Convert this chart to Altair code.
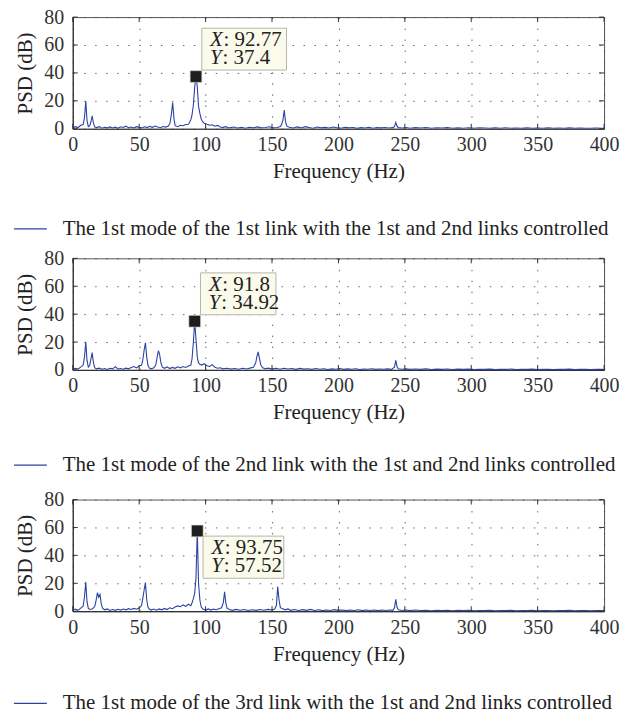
import altair as alt
import pandas as pd

FONT = "Liberation Serif"
LINE_COLOR = "#2c43a3"

X_TICKS = [0, 50, 100, 150, 200, 250, 300, 350, 400]
Y_TICKS = [0, 20, 40, 60, 80]

LABEL_1 = "The 1st mode of the 1st link with the 1st and 2nd links controlled"
LABEL_2 = "The 1st mode of the 2nd link with the 1st and 2nd links controlled"
LABEL_3 = "The 1st mode of the 3rd link with the 1st and 2nd links controlled"

# (frequency Hz, PSD dB)
PSD_1 = [
    (0, 0.5), (2, 1.5), (4, 0.8), (6, 2.5), (7.8, 3.0), (8.8, 8.0), (9.8, 19.8), (10.7, 6.0),
    (11.7, 1.5), (12.7, 2.0), (13.7, 5.0), (14.6, 9.3), (15.6, 4.0), (16.6, 1.2), (18, 0.8),
    (20, 1.5), (22, 0.4), (24, 1.0), (26, 0.6), (28, 1.3), (30, 0.5), (32, 1.1), (34, 0.3),
    (36, 1.4), (38, 0.9), (40, 1.8), (42, 0.7), (44, 1.2), (46, 0.5), (48, 1.5), (50, 1.0),
    (52, 0.6), (54, 1.4), (56, 0.8), (58, 1.7), (60, 1.0), (62, 1.9), (64, 1.2), (66, 0.7),
    (68, 1.6), (70, 1.2), (72, 2.0), (73.2, 4.0), (74.2, 10.0), (75.2, 18.8), (76.2, 7.0),
    (77.1, 2.2), (79, 1.5), (81, 2.5), (83, 2.2), (85, 3.0), (87, 3.2), (87.9, 4.5), (88.9, 6.5),
    (89.8, 10.0), (90.8, 17.0), (91.8, 30.0), (92.77, 37.4), (93.75, 30.0), (94.7, 16.0),
    (95.7, 11.0), (96.7, 7.0), (97.7, 5.0), (99, 4.0), (101, 3.2), (103, 2.5), (105, 2.8),
    (107, 1.8), (109, 2.4), (111, 1.2), (113, 0.8), (115, 1.5), (118, 0.6), (121, 1.2),
    (124, 0.5), (127, 1.0), (130, 0.4), (133, 1.1), (136, 0.6), (139, 1.3), (142, 0.7),
    (145, 0.9), (148, 1.4), (151, 0.6), (154, 0.9), (156.3, 1.5), (157.2, 3.0), (158.2, 6.0),
    (159.2, 13.3), (160.2, 5.0), (161.1, 1.8), (163, 1.0), (166, 0.5), (169, 1.3), (172, 0.6),
    (175, 1.5), (178, 0.8), (181, 0.4), (184, 1.2), (187, 0.6), (190, 1.0), (193, 0.5),
    (196, 1.2), (199, 0.7), (202, 0.4), (205, 1.0), (208, 0.6), (211, 0.9), (214, 0.3),
    (217, 0.8), (220, 0.5), (223, 1.0), (226, 0.4), (229, 0.8), (232, 0.6), (235, 0.9),
    (238, 0.5), (241, 0.8), (242.2, 1.5), (243.2, 4.5), (244.1, 2.0), (245.1, 0.8), (248, 0.5),
    (251, 0.9), (254, 0.4), (258, 0.8), (262, 0.5), (266, 0.9), (270, 0.4), (274, 0.7),
    (278, 0.5), (282, 0.8), (286, 0.4), (290, 0.6), (294, 0.3), (298, 0.7), (302, 0.4),
    (306, 0.6), (310, 0.5), (314, 0.3), (318, 0.6), (322, 0.4), (326, 0.7), (330, 0.3),
    (334, 0.5), (338, 0.4), (342, 0.6), (346, 0.3), (350, 0.5), (354, 0.4), (358, 0.6),
    (362, 0.3), (366, 0.5), (370, 0.4), (374, 0.6), (378, 0.3), (382, 0.5), (386, 0.4),
    (390, 0.3), (394, 0.5), (398, 0.4), (400, 0.3),
]

PSD_2 = [
    (0, 0.6), (2, 1.2), (4, 0.7), (6, 2.0), (7.8, 3.5), (8.8, 9.0), (9.8, 20.2), (10.7, 7.0),
    (11.7, 2.0), (12.7, 3.0), (13.7, 8.0), (14.6, 12.4), (15.6, 5.0), (16.6, 1.5), (18, 0.8),
    (20, 1.3), (22, 0.5), (24, 1.0), (26, 0.4), (28, 1.2), (30, 0.8), (32, 2.4), (34, 0.7),
    (36, 1.0), (38, 0.5), (40, 1.3), (42, 0.8), (44, 1.8), (46, 2.5), (48, 1.5), (50, 2.8),
    (51.8, 3.5), (52.7, 7.0), (53.7, 14.0), (54.7, 19.5), (55.7, 9.0), (56.6, 3.5), (57.6, 1.5),
    (59, 0.8), (61, 1.5), (62.5, 3.5), (63.5, 9.0), (64.5, 13.8), (65.4, 11.0), (66.4, 5.0),
    (67.4, 2.0), (69, 1.2), (71, 2.2), (73, 1.0), (75, 1.8), (77, 1.2), (79, 2.3), (81, 1.5),
    (83, 2.5), (85, 1.8), (87, 2.8), (88.9, 3.5), (89.8, 8.0), (90.8, 20.0), (91.8, 34.92),
    (92.77, 22.0), (93.75, 9.0), (94.7, 5.0), (95.7, 4.0), (97, 3.5), (99, 4.5), (101, 3.0),
    (103, 2.5), (105, 3.8), (107, 2.0), (109, 1.2), (111, 1.6), (113, 0.8), (116, 1.2),
    (119, 0.6), (122, 1.0), (125, 0.5), (128, 1.2), (131, 0.7), (134, 1.5), (136, 2.0),
    (137.7, 5.0), (138.7, 10.0), (139.6, 13.0), (140.6, 8.0), (141.6, 3.5), (143, 1.5),
    (145, 0.8), (147, 1.3), (150, 0.6), (153, 1.1), (156, 0.5), (159, 1.2), (162, 0.7),
    (165, 1.0), (168, 0.4), (171, 1.1), (174, 0.6), (177, 0.9), (180, 0.4), (183, 1.0),
    (186, 0.5), (189, 0.9), (192, 0.3), (195, 0.8), (198, 0.5), (201, 1.0), (204, 0.4),
    (207, 0.8), (210, 0.5), (213, 0.9), (216, 0.3), (219, 0.7), (222, 0.5), (225, 0.9),
    (228, 0.4), (231, 0.7), (234, 0.5), (237, 0.8), (240, 0.4), (242.2, 2.0), (243.2, 6.9),
    (244.1, 2.5), (245.1, 0.8), (248, 0.5), (251, 0.8), (254, 0.4), (258, 0.7), (262, 0.4),
    (266, 0.8), (270, 0.3), (274, 0.6), (278, 0.4), (282, 0.7), (286, 0.3), (290, 0.6),
    (294, 0.4), (298, 0.6), (302, 0.3), (306, 0.5), (310, 0.4), (314, 0.6), (318, 0.3),
    (322, 0.5), (326, 0.4), (330, 0.6), (334, 0.3), (338, 0.5), (342, 0.4), (346, 0.6),
    (350, 0.3), (354, 0.5), (358, 0.4), (362, 0.3), (366, 0.5), (370, 0.4), (374, 0.6),
    (378, 0.3), (382, 0.5), (386, 0.4), (390, 0.3), (394, 0.5), (398, 0.4), (400, 0.3),
]

PSD_3 = [
    (0, 0.8), (2, 1.5), (4, 0.6), (6, 2.2), (7.8, 3.5), (8.8, 10.0), (9.8, 20.9), (10.7, 7.0),
    (11.7, 2.0), (13, 1.2), (15, 1.8), (16.6, 3.5), (17.6, 8.0), (18.6, 13.3), (19.5, 10.0),
    (20.5, 12.0), (21.5, 5.0), (22.5, 2.0), (24, 1.0), (26, 1.6), (28, 0.5), (30, 1.2),
    (32, 0.6), (34, 1.4), (36, 0.8), (38, 1.6), (40, 1.0), (42, 1.8), (44, 1.2), (46, 2.0),
    (48, 1.4), (50, 2.2), (51.8, 4.0), (52.7, 9.0), (53.7, 15.0), (54.7, 20.5), (55.7, 8.0),
    (56.6, 3.0), (57.6, 1.5), (59, 0.8), (61, 1.5), (63, 0.7), (65, 1.6), (67, 1.0), (69, 2.0),
    (71, 1.2), (73, 2.4), (75, 1.8), (77, 3.0), (79, 3.8), (81, 3.2), (83, 4.5), (85, 3.5),
    (87, 5.0), (88.9, 4.0), (89.8, 6.0), (90.8, 9.0), (91.8, 13.0), (92.77, 24.0),
    (93.75, 57.52), (94.7, 20.0), (95.7, 8.0), (96.7, 3.0), (98, 1.5), (100, 0.8), (102, 1.6),
    (104, 0.8), (106, 1.5), (108, 1.0), (110, 1.8), (112, 2.5), (113.3, 6.0), (114.3, 13.8),
    (115.2, 6.0), (116.2, 2.0), (118, 1.2), (120, 0.6), (123, 1.3), (126, 0.7), (129, 1.2),
    (132, 0.5), (135, 1.0), (138, 0.6), (141, 1.2), (144, 0.7), (147, 1.3), (150, 0.9),
    (152, 1.5), (153.3, 4.0), (154.3, 17.6), (155.3, 8.0), (156.3, 2.5), (158, 1.8), (160, 1.0),
    (162, 1.6), (164, 0.6), (167, 1.2), (170, 0.5), (173, 1.1), (176, 0.6), (179, 1.3),
    (182, 0.5), (185, 1.0), (188, 0.4), (191, 0.9), (194, 0.5), (197, 1.1), (200, 0.6),
    (203, 0.9), (206, 0.4), (209, 0.8), (212, 0.5), (215, 1.0), (218, 0.4), (221, 0.8),
    (224, 0.5), (227, 0.9), (230, 0.4), (233, 0.8), (236, 0.5), (239, 0.9), (241, 0.6),
    (242.2, 2.5), (243.2, 8.5), (244.1, 3.0), (245.1, 1.0), (248, 0.5), (251, 0.9), (254, 0.4),
    (258, 0.8), (262, 0.5), (266, 0.7), (270, 0.3), (274, 0.7), (278, 0.4), (282, 0.6),
    (286, 0.3), (290, 0.7), (294, 0.4), (298, 0.6), (302, 0.3), (306, 0.5), (310, 0.4),
    (314, 0.6), (318, 0.3), (322, 0.5), (326, 0.4), (330, 0.6), (334, 0.3), (338, 0.5),
    (342, 0.4), (346, 0.6), (350, 0.3), (354, 0.5), (358, 0.4), (362, 0.3), (366, 0.5),
    (370, 0.4), (374, 0.6), (378, 0.3), (382, 0.5), (386, 0.4), (390, 0.3), (394, 0.5),
    (398, 0.4), (400, 0.3),
]

# data tips: (X, Y)
TIP_1 = (92.77, 37.4)
TIP_2 = (91.8, 34.92)
TIP_3 = (93.75, 57.52)

W, H = 533, 112


def panel(pairs, label, tip, box_w, above, legend_y):
    df = pd.DataFrame(pairs, columns=["f", "psd"])
    df["series"] = label
    xs = alt.Scale(domain=[0, 400], nice=False, zero=False)
    ys = alt.Scale(domain=[0, 80], nice=False)
    x_ax = alt.Axis(values=X_TICKS, title="Frequency (Hz)", grid=True, labelPadding=6,
                    titlePadding=6, labelFlush=False)
    y_ax = alt.Axis(values=Y_TICKS, title="PSD (dB)", grid=True, labelPadding=9,
                    titlePadding=8, labelFlush=False)
    X = alt.X("f:Q", scale=xs, axis=x_ax)
    Y = alt.Y("psd:Q", scale=ys, axis=y_ax)

    line = alt.Chart(df).mark_line(strokeWidth=1.1, clip=True).encode(
        x=X,
        y=Y,
        color=alt.Color(
            "series:N",
            scale=alt.Scale(range=[LINE_COLOR]),
            legend=alt.Legend(
                orient="none", legendX=-60, legendY=legend_y, title=None,
                symbolType="stroke", symbolSize=1089, symbolStrokeWidth=1.3,
                labelFont=FONT, labelFontSize=21, labelColor="#222",
                labelOffset=15, labelLimit=800, padding=0,
            ),
        ),
    )

    xt = pd.DataFrame({"f": X_TICKS})
    yt = pd.DataFrame({"psd": Y_TICKS})
    tick_style = dict(color="#333", strokeWidth=1)
    tb = alt.Chart(xt).mark_rule(**tick_style).encode(
        x=X, y=alt.value(H), y2=alt.value(H - 5))
    tt = alt.Chart(xt).mark_rule(**tick_style).encode(
        x=X, y=alt.value(0), y2=alt.value(5))
    tl = alt.Chart(yt).mark_rule(**tick_style).encode(
        y=Y, x=alt.value(0), x2=alt.value(5))
    tr = alt.Chart(yt).mark_rule(**tick_style).encode(
        y=Y, x=alt.value(W), x2=alt.value(W - 5))

    tdf = pd.DataFrame({
        "f": [tip[0]], "psd": [tip[1]],
        "xval": [": " + f"{tip[0]:g}"], "yval": [": " + f"{tip[1]:g}"],
        "xl": ["X"], "yl": ["Y"],
    })
    if above:
        top_off, bot_off = -48.5, -6.5
    else:
        top_off, bot_off = 5.2, 47.5
    enc = dict(x=X, y=Y)
    base = alt.Chart(tdf)
    box = base.mark_rect(
        fill="#fbfbec", stroke="#b5b5ab", strokeWidth=1,
        xOffset=5.8, x2Offset=5.8 + box_w, yOffset=top_off, y2Offset=bot_off,
    ).encode(x2="f:Q", y2="psd:Q", **enc)
    marker = base.mark_square(size=137, filled=True, color="#1e1e1e", opacity=1,
                              stroke="#d8d4b0", strokeWidth=0.6).encode(**enc)
    txt = dict(font=FONT, fontSize=21, color="#222", align="left", baseline="alphabetic")
    dx0 = 5.8 + 8.3
    xl = base.mark_text(fontStyle="italic", dx=dx0, dy=top_off + 17.7, **txt).encode(text="xl:N", **enc)
    xv = base.mark_text(dx=dx0 + 13.5, dy=top_off + 17.7, **txt).encode(text="xval:N", **enc)
    yl = base.mark_text(fontStyle="italic", dx=dx0, dy=top_off + 36, **txt).encode(text="yl:N", **enc)
    yv = base.mark_text(dx=dx0 + 12.5, dy=top_off + 36, **txt).encode(text="yval:N", **enc)

    return alt.layer(line, tb, tt, tl, tr, marker, box, xl, xv, yl, yv).properties(width=W, height=H)


p1 = panel(PSD_1, LABEL_1, TIP_1, 85, True, 195)
p2 = panel(PSD_2, LABEL_2, TIP_2, 75.7, True, 190)
p3 = panel(PSD_3, LABEL_3, TIP_3, 81, False, 187)

chart = alt.vconcat(p1, p2, p3, spacing=130, bounds="flush").resolve_scale(
    color="independent"
).properties(
    padding={"left": 12, "top": 5, "right": 5, "bottom": 2},
    background="white",
).configure_view(
    stroke="#555", strokeWidth=1
).configure_axis(
    labelFont=FONT, labelFontSize=20, labelColor="#333",
    titleFont=FONT, titleFontSize=21, titleFontWeight="normal", titleColor="#222",
    ticks=False, domainColor="#333", domainWidth=1.2,
    gridColor="#444", gridDash=[1.5, 9.5], gridOpacity=0.8, gridWidth=1,
)

chart.save("out.html", embed_options={"renderer": "svg", "actions": False})
